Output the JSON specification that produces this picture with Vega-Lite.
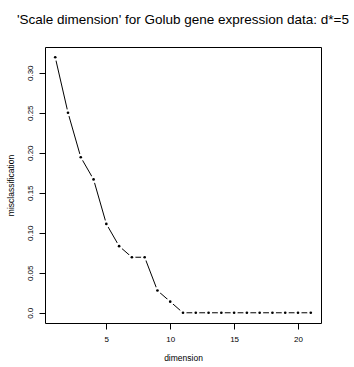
{
  "$schema": "https://vega.github.io/schema/vega-lite/v6.json",
  "autosize": {"type": "none"},
  "width": 276,
  "height": 276,
  "padding": {"left": 45, "top": 47, "right": 33, "bottom": 44},
  "background": "white",
  "config": {
    "font": "Liberation Sans",
    "view": {"stroke": "black", "strokeWidth": 1},
    "axis": {"grid": false, "domain": false, "tickColor": "black", "tickSize": 6, "labelColor": "black", "titleColor": "black", "labelFontSize": 8, "titleFontSize": 8.5, "titleFontWeight": "normal", "labelFont": "Liberation Sans", "titleFont": "Liberation Sans"}
  },
  "title": {"text": "'Scale dimension' for Golub gene expression data: d*=5", "fontSize": 13.5, "fontWeight": "normal", "font": "Liberation Sans", "color": "black", "anchor": "middle", "baseline": "alphabetic", "offset": 10},
  "data": {"values": [
    {"dimension": 1, "misclassification": 0.3194},
    {"dimension": 2, "misclassification": 0.25},
    {"dimension": 3, "misclassification": 0.1944},
    {"dimension": 4, "misclassification": 0.1667},
    {"dimension": 5, "misclassification": 0.1111},
    {"dimension": 6, "misclassification": 0.0833},
    {"dimension": 7, "misclassification": 0.0694},
    {"dimension": 8, "misclassification": 0.0694},
    {"dimension": 9, "misclassification": 0.0278},
    {"dimension": 10, "misclassification": 0.0139},
    {"dimension": 11, "misclassification": 0},
    {"dimension": 12, "misclassification": 0},
    {"dimension": 13, "misclassification": 0},
    {"dimension": 14, "misclassification": 0},
    {"dimension": 15, "misclassification": 0},
    {"dimension": 16, "misclassification": 0},
    {"dimension": 17, "misclassification": 0},
    {"dimension": 18, "misclassification": 0},
    {"dimension": 19, "misclassification": 0},
    {"dimension": 20, "misclassification": 0},
    {"dimension": 21, "misclassification": 0}
  ]},
  "encoding": {
    "x": {"field": "dimension", "type": "quantitative", "scale": {"domain": [0.2, 21.8], "nice": false, "zero": false},
      "axis": {"values": [5, 10, 15, 20], "labelPadding": 6, "title": "dimension", "titlePadding": 10}},
    "y": {"field": "misclassification", "type": "quantitative", "scale": {"domain": [-0.01278, 0.33218], "nice": false, "zero": false},
      "axis": {"values": [0, 0.05, 0.1, 0.15, 0.2, 0.25, 0.3], "labelExpr": "datum.value == 0 ? '0.0' : format(datum.value, '.2f')", "labelAngle": -90, "labelAlign": "center", "labelBaseline": "bottom", "labelPadding": 5, "title": "misclassification", "titleX": -35, "titleY": 138, "titleAngle": -90, "titleAlign": "center", "titleBaseline": "middle"}}
  },
  "layer": [
    {"mark": {"type": "line", "color": "black", "strokeWidth": 1}},
    {"mark": {"type": "circle", "color": "white", "opacity": 1, "size": 50}},
    {"mark": {"type": "circle", "color": "black", "opacity": 1, "size": 7}}
  ]
}
